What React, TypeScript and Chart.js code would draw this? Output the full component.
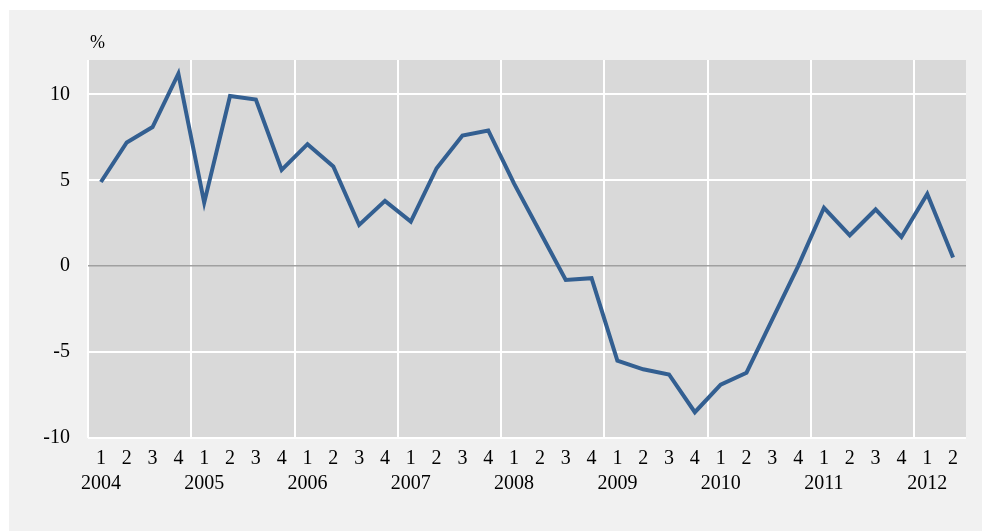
import React, { useEffect, useRef } from "react";
import { Chart, registerables } from "chart.js";

Chart.register(...registerables);

const years = ["2004", "2005", "2006", "2007", "2008", "2009", "2010", "2011", "2012"];
const quarters = ["1", "2", "3", "4"];
const values = [
  4.9, 7.2, 8.1, 11.2,
  3.7, 9.9, 9.7, 5.6,
  7.1, 5.8, 2.4, 3.8,
  2.6, 5.7, 7.6, 7.9,
  4.8, 2.0, -0.8, -0.7,
  -5.5, -6.0, -6.3, -8.5,
  -6.9, -6.2, -3.1, 0.0,
  3.4, 1.8, 3.3, 1.7,
  4.2, 0.5,
];
const yTicks = [-10, -5, 0, 5, 10];
const unitLabel = "%";

const labels: (string | string[])[] = values.map((_, i) => {
  const q = quarters[i % 4];
  return i % 4 === 0 ? [q, years[Math.floor(i / 4)]] : q;
});

const FONT = '"Liberation Serif", "Times New Roman", serif';

export default function App() {
  const ref = useRef<HTMLCanvasElement | null>(null);
  useEffect(() => {
    if (!ref.current) return;
    const bgPlugin = {
      id: "plotBg",
      beforeDraw(chart: any) {
        const { ctx, chartArea } = chart;
        ctx.save();
        ctx.fillStyle = "#d9d9d9";
        ctx.fillRect(chartArea.left, chartArea.top, chartArea.right - chartArea.left, chartArea.bottom - chartArea.top);
        ctx.restore();
      },
      afterDraw(chart: any) {
        const { ctx, chartArea } = chart;
        ctx.save();
        ctx.fillStyle = "#000";
        ctx.font = `18px ${FONT}`;
        ctx.textAlign = "left";
        ctx.textBaseline = "middle";
        ctx.fillText(unitLabel, chartArea.left + 2, 33);
        ctx.restore();
      },
    };
    const chart = new Chart(ref.current, {
      type: "line",
      data: {
        labels,
        datasets: [
          {
            data: values,
            borderColor: "#335f91",
            borderWidth: 4,
            pointRadius: 0,
            tension: 0,
            fill: false,
          },
        ],
      },
      options: {
        animation: false,
        responsive: false,
        maintainAspectRatio: false,
        layout: { padding: { top: 50, right: 16, left: 0, bottom: 0 } },
        plugins: { legend: { display: false }, tooltip: { enabled: false }, title: { display: false } },
        scales: {
          x: {
            type: "category",
            offset: true,
            grid: {
              offset: true,
              drawTicks: false,
              tickLength: 0,
              lineWidth: 2,
              color: (ctx: any) => (ctx.index % 4 === 0 ? "#ffffff" : "rgba(0,0,0,0)"),
            },
            border: { display: false },
            ticks: {
              autoSkip: false,
              maxRotation: 0,
              minRotation: 0,
              padding: 8,
              color: "#000",
              font: { family: FONT, size: 20, lineHeight: 1.25 },
            },
            afterFit: (scale: any) => {
              scale.height = 93;
            },
          },
          y: {
            type: "linear",
            min: -10,
            max: 12,
            afterBuildTicks: (scale: any) => {
              scale.ticks = yTicks.map((v) => ({ value: v }));
            },
            grid: {
              drawTicks: false,
              tickLength: 0,
              lineWidth: (ctx: any) => (ctx.tick && ctx.tick.value === 0 ? 1.5 : 2),
              color: (ctx: any) => (ctx.tick && ctx.tick.value === 0 ? "#a0a0a0" : "#ffffff"),
            },
            border: { display: false },
            ticks: {
              padding: 18,
              color: "#000",
              font: { family: FONT, size: 20 },
            },
            afterFit: (scale: any) => {
              scale.width = 79;
            },
          },
        },
      },
      plugins: [bgPlugin],
    } as any);
    return () => chart.destroy();
  }, []);
  return (
    <div style={{ position: "absolute", left: 9, top: 10, width: 973, height: 521, background: "#f1f1f1" }}>
      <canvas ref={ref} width={973} height={521} style={{ display: "block" }} />
    </div>
  );
}
